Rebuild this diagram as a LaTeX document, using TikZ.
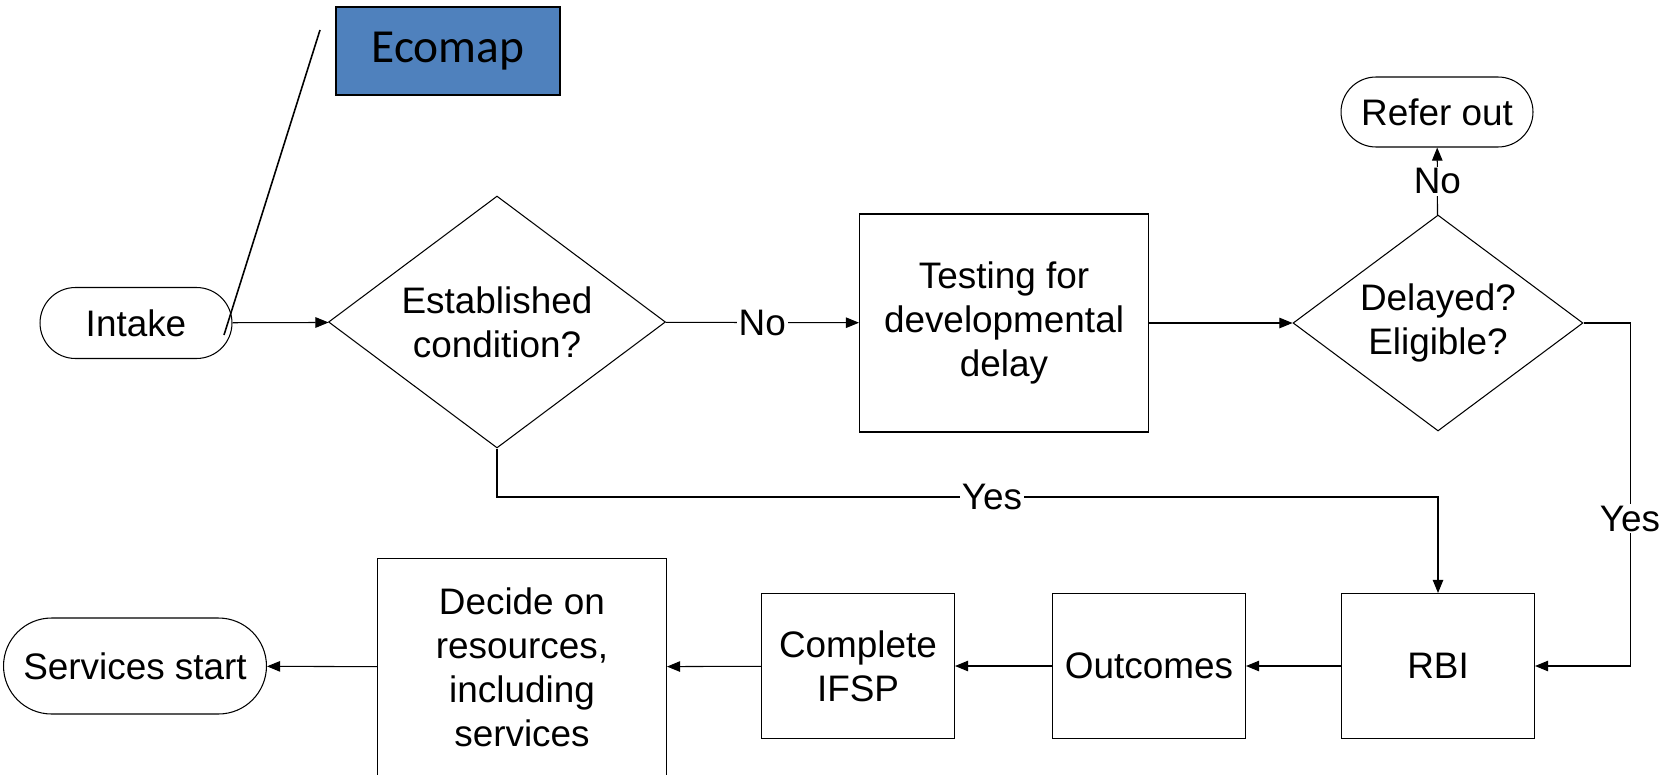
\documentclass[tikz,border=0pt]{standalone}
\usepackage{fontspec}
\setmainfont{Liberation Sans}
\newfontfamily\ecofont{Carlito}
\usetikzlibrary{shapes.geometric,shapes.misc,arrows.meta}
\definecolor{ecoblue}{HTML}{4F81BD}
\tikzset{
  flowtext/.style={font=\fontsize{21}{25}\selectfont, align=center},
  terminal/.style={flowtext, draw, rounded rectangle, inner sep=0pt, line width=0.6pt},
  process/.style={flowtext, draw, rectangle, inner sep=0pt, line width=0.6pt},
  decision/.style={flowtext, draw, diamond, aspect=1.34, inner sep=0pt, line width=0.6pt},
  flow/.style={-{Triangle[length=7.5pt,width=6pt]}, line width=0.6pt},
  lbl/.style={flowtext, fill=white, inner sep=1pt}
}
\begin{document}
\begin{tikzpicture}[x=0.02cm,y=-0.02cm]
  \useasboundingbox (0,0) rectangle (1672,774);
  % top row
  \node[terminal,minimum width=3.84cm,minimum height=1.42cm] (intake) at (136,323) {Intake};
  \node[decision,minimum width=6.74cm,minimum height=5.04cm] (cond) at (497,322) {Established\\condition?};
  \node[process,minimum width=5.78cm,minimum height=4.36cm] (test) at (1004,323) {Testing for\\developmental\\delay};
  \node[decision,minimum width=5.8cm,minimum height=4.32cm] (delay) at (1438,323) {Delayed?\\Eligible?};
  \node[terminal,minimum width=3.84cm,minimum height=1.4cm] (refer) at (1437,112) {Refer out};
  % ecomap callout
  \node[draw,fill=ecoblue,line width=1.2pt,minimum width=4.48cm,minimum height=1.76cm,
        font=\ecofont\fontsize{27}{31}\selectfont] (ecomap) at (448,51) {Ecomap};
  \coordinate (calltop) at (320,30);
  \coordinate (callend) at (224,335);
  \draw[line width=0.9pt] (calltop) -- (callend);
  % bottom row
  \node[process,minimum width=3.86cm,minimum height=2.9cm] (rbi) at (1438,666) {RBI};
  \node[process,minimum width=3.86cm,minimum height=2.9cm] (outc) at (1149,666) {Outcomes};
  \node[process,minimum width=3.86cm,minimum height=2.9cm] (ifsp) at (858,666) {Complete\\IFSP};
  \node[process,minimum width=5.78cm,minimum height=4.36cm] (decide) at (522,667) {Decide on\\resources,\\including\\services};
  \node[terminal,minimum width=5.26cm,minimum height=1.92cm] (start) at (135,666) {Services start};
  % connectors
  \draw[flow] (intake) -- (cond);
  \draw[flow] (cond) -- node[lbl] {No} (test);
  \draw[flow] (test) -- (delay);
  \draw[flow] (delay) -- node[lbl] {No} (refer);
  \coordinate (yesA) at (497,497);
  \coordinate (yesB) at (1438,497);
  \draw[flow] (cond.south) -- (yesA) -- node[lbl,pos=0.526] {Yes} (yesB) -- (rbi.north);
  \coordinate (sideA) at (1630,323);
  \coordinate (sideB) at (1630,666);
  \draw[flow] (delay.east) -- (sideA) -- node[lbl,pos=0.57] {Yes} (sideB) -- (rbi.east);
  \foreach \a/\b in {rbi/outc,outc/ifsp,ifsp/decide,decide/start}
    \draw[flow] (\a) -- (\b);
\end{tikzpicture}
\end{document}
